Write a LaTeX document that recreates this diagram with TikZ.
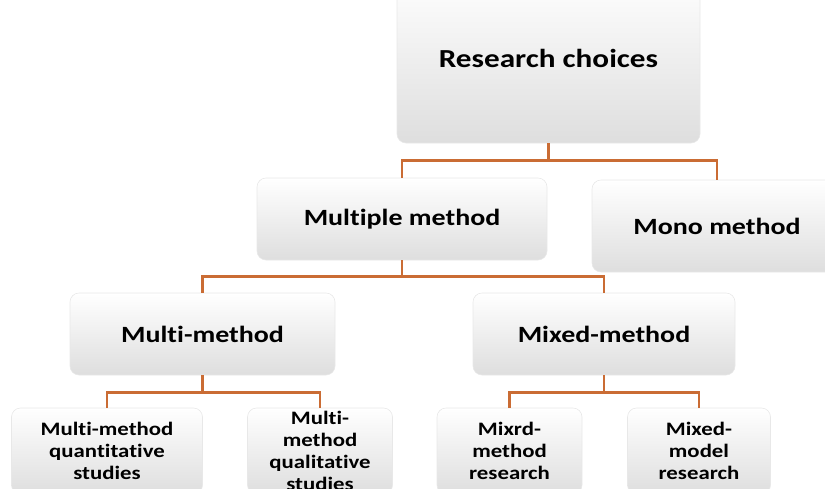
\documentclass[tikz,border=0pt]{standalone}
\usepackage{fontspec}
\setmainfont{Carlito}[FakeStretch=1.2, Ligatures=NoCommon]
\definecolor{linkorange}{RGB}{202,108,52}
\definecolor{cardedge}{RGB}{232,232,232}
\definecolor{cardbase}{RGB}{222,222,222}
\begin{document}
\begin{tikzpicture}[x=1pt,y=-1pt,
  card/.style={draw=cardedge, line width=0.6pt, rounded corners=9pt,
    top color=white, middle color=white, bottom color=cardbase,
    inner sep=0pt, align=center, text=black},
  bigtext/.style={font=\bfseries\fontsize{26}{30}\selectfont},
  midtext/.style={font=\bfseries\fontsize{23.3}{27}\selectfont},
  smalltext/.style={font=\bfseries\fontsize{19}{22}\selectfont},
  conn/.style={draw=linkorange, line width=2.6pt}]
\useasboundingbox (0,0) rectangle (825,488);
\clip (0,0) rectangle (825,488);

% top level
\node[card, bigtext, minimum width=303pt, minimum height=170pt] (rc) at (548.5,58) {Research choices};

% second level
\node[card, midtext, minimum width=290pt, minimum height=82pt] (mm) at (402,219) {Multiple method};
\node[card, midtext, minimum width=250pt, minimum height=92pt] (mono) at (717,226) {Mono method};

% third level
\node[card, midtext, minimum width=265pt, minimum height=82pt] (multi) at (202.5,334) {Multi-method};
\node[card, midtext, minimum width=262pt, minimum height=82pt] (mixed) at (604,334) {Mixed-method};

% bottom level
\node[card, smalltext, minimum width=191pt, minimum height=86pt] (quant) at (107,451) {Multi-method\\quantitative\\studies};
\node[card, smalltext, minimum width=145pt, minimum height=86pt] (qual) at (320,451) {Multi-\\method\\qualitative\\studies};
\node[card, smalltext, minimum width=145pt, minimum height=86pt] (mixrd) at (509.5,451) {Mixrd-\\method\\research};
\node[card, smalltext, minimum width=143pt, minimum height=86pt] (model) at (699,451) {Mixed-\\model\\research};

% connectors
\draw[conn] (rc.south) -- ++(0,17) -| (mm.north);
\draw[conn] (rc.south) ++(0,17) -| (mono.north);
\draw[conn] (mm.south) -- ++(0,16) -| (multi.north);
\draw[conn] (mm.south) ++(0,16) -| (mixed.north);
\draw[conn] (multi.south) -- ++(0,17) -| (quant.north);
\draw[conn] (multi.south) ++(0,17) -| (qual.north);
\draw[conn] (mixed.south) -- ++(0,17) -| (mixrd.north);
\draw[conn] (mixed.south) ++(0,17) -| (model.north);
\end{tikzpicture}
\end{document}
